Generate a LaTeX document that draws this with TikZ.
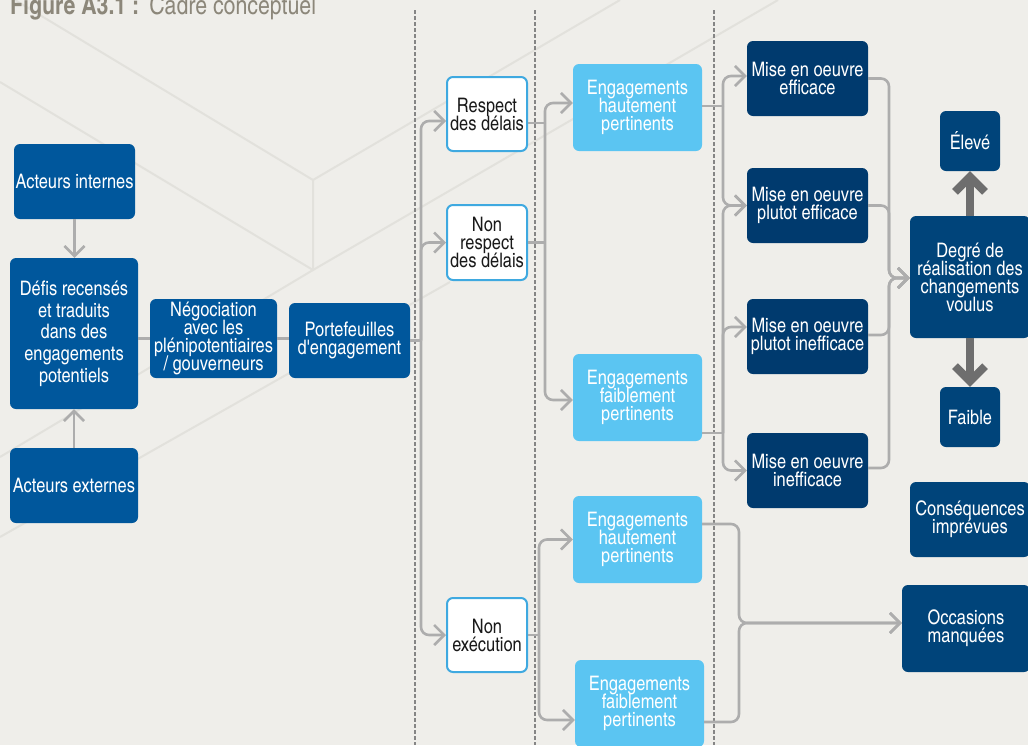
\documentclass[tikz,border=0pt]{standalone}
\usepackage{fontspec}
\setmainfont{TeX Gyre Heros}
\newfontfamily\cnfont{texgyreheroscn}[Extension=.otf,UprightFont=*-regular,BoldFont=*-bold]
\usetikzlibrary{arrows.meta}
\definecolor{bgc}{HTML}{EFEEEA}
\definecolor{bglinec}{HTML}{E2E1DC}
\definecolor{midblue}{HTML}{00579C}
\definecolor{lightblue}{HTML}{5BC5F2}
\definecolor{navy}{HTML}{003A6E}
\definecolor{navyb}{HTML}{00447A}
\definecolor{borderblue}{HTML}{3FA9E0}
\definecolor{lineg}{HTML}{ADADAD}
\definecolor{thickg}{HTML}{6E6E6E}
\definecolor{dashg}{HTML}{858585}
\definecolor{titlec}{HTML}{8C877A}
\newcommand\myboxfont{\cnfont\fontsize{20}{18}\selectfont\lineskiplimit=-30pt\relax\lineskip=0pt\relax}
\newcommand\mytallfont{\cnfont\fontsize{20}{21.7}\selectfont\relax}
\tikzset{
  boxbase/.style={rounded corners=6pt, inner sep=0pt, align=center, text=white,
    font=\myboxfont},
  midbox/.style={boxbase, fill=midblue},
  whitebox/.style={boxbase, fill=white, draw=borderblue, line width=2pt, text=black!90,
    minimum width=80pt},
  lightbox/.style={boxbase, fill=lightblue, minimum width=129pt, minimum height=87pt},
  navybox/.style={boxbase, fill=navy, minimum width=121pt, minimum height=75pt},
  navybbox/.style={boxbase, fill=navyb},
  conn/.style={draw=lineg, line width=2.6pt, rounded corners=8pt},
  arr/.style={conn, -{Straight Barb[length=10pt,width=20pt]}},
  bigarr/.style={draw=thickg, line width=8pt, -{Straight Barb[length=15pt,width=30pt]}},
  dashline/.style={draw=dashg, line width=1.1pt, dash pattern=on 3.5pt off 2.5pt},
  bgline/.style={draw=bglinec, line width=2pt}
}
\begin{document}
\begin{tikzpicture}[x=1pt,y=-1pt]
\useasboundingbox (0,0) rectangle (1028,745);
\clip (0,0) rectangle (1028,745);
\fill[bgc] (0,0) rectangle (1028,745);
% background pattern
\draw[bgline] (15,0) -- (313,180) -- (313,270) -- (0,457);
\draw[bgline] (0,82) -- (313,270) -- (778,0);
\draw[bgline] (313,180) -- (620,0);
\draw[bgline] (0,537) -- (450,282);
% title
\node[anchor=base west, inner sep=0pt, text=titlec, font=\cnfont\fontsize{26}{28}\selectfont] (title) at (10,14)
  {\bfseries Figure A3.1 :\hspace{10pt}\mdseries Cadre conceptuel};
% dashed separators
\draw[dashline] (415,10) -- (415,745);
\draw[dashline] (535,10) -- (535,745);
\draw[dashline] (714,10) -- (714,745);
% nodes
\node[midbox, minimum width=121pt, minimum height=75pt] (ai) at (74.5,181.5) {Acteurs internes};
\node[midbox, minimum width=128pt, minimum height=151pt, font=\mytallfont] (defis) at (74,333.5)
  {Défis recensés\\et traduits\\dans des\\engagements\\potentiels};
\node[midbox, minimum width=128pt, minimum height=75pt] (ae) at (74,485.5) {Acteurs externes};
\node[midbox, minimum width=127pt, minimum height=79pt] (neg) at (213.5,338.5)
  {Négociation\\avec les\\plénipotentiaires\\/ gouverneurs};
\node[midbox, minimum width=121pt, minimum height=75pt] (port) at (349.5,340.5) {Portefeuilles\\d'engagement};
\node[whitebox, minimum height=74pt] (resp) at (487,114) {Respect\\des délais};
\node[whitebox, minimum height=75pt] (nonresp) at (487,242.5) {Non\\respect\\des délais};
\node[whitebox, minimum height=74pt] (nonexec) at (487,635) {Non\\exécution};
\node[lightbox] (eh1) at (637.5,107.5) {Engagements\\hautement\\pertinents};
\node[lightbox] (ef1) at (637.5,397.5) {Engagements\\faiblement\\pertinents};
\node[lightbox] (eh2) at (637.5,539.5) {Engagements\\hautement\\pertinents};
\node[lightbox] (ef2) at (639.5,703.5) {Engagements\\faiblement\\pertinents};
\node[navybox] (m1) at (807.5,78.5) {Mise en oeuvre\\efficace};
\node[navybox] (m2) at (807.5,205.5) {Mise en oeuvre\\plutot efficace};
\node[navybox] (m3) at (807.5,336.5) {Mise en oeuvre\\plutot inefficace};
\node[navybox] (m4) at (807.5,470.5) {Mise en oeuvre\\inefficace};
\node[navybbox, minimum width=60pt, minimum height=60pt] (eleve) at (970,141) {Élevé};
\node[navybbox, minimum width=120pt, minimum height=122pt] (degre) at (970,277)
  {Degré de\\réalisation des\\changements\\voulus};
\node[navybbox, minimum width=60pt, minimum height=60pt] (faible) at (970,417) {Faible};
\node[navybbox, minimum width=120pt, minimum height=75pt] (cons) at (970,519.5) {Conséquences\\imprévues};
\node[navybbox, minimum width=128pt, minimum height=87pt] (occ) at (966,628.5) {Occasions\\manquées};
% connectors: left
\draw[arr] (ai.south) -- (ai.south |- defis.north);
\draw[arr] (ae.north) -- (defis.south);
\draw[conn] (defis.east |- neg.west) -- (neg.west);
\draw[conn] (neg.east) -- (neg.east -| port.west);
% trunk after portefeuilles
\coordinate (j1) at (421,340.5);
\draw[conn] (port.east) -- (j1);
\draw[arr] (j1) |- ([yshift=-7pt]resp.west);
\draw[arr] (j1) |- (nonresp.west);
\draw[arr] (j1) |- (nonexec.west);
% trunk after respect / non respect
\coordinate (j2) at (545,123);
\draw[conn] ([yshift=-9pt]resp.east) -- (j2);
\draw[conn] (nonresp.east) -- (nonresp.east -| j2);
\draw[arr] (j2) |- ([yshift=4.5pt]eh1.west);
\draw[arr] (j2) |- ([yshift=-2.5pt]ef1.west);
% trunk after non execution
\coordinate (j3) at (539,635);
\draw[conn] (nonexec.east) -- (j3);
\draw[arr] (j3) |- (eh2.west);
\draw[arr] (j3) |- ([yshift=-16.5pt]ef2.west);
% engagements -> mise en oeuvre
\coordinate (j4) at (723,106);
\draw[conn] ([yshift=1.5pt]eh1.east) -- (j4);
\draw[arr] (j4) |- ([yshift=2.5pt]m1.west);
\draw[arr] (j4) |- (m2.west);
\coordinate (j5) at (723,433);
\draw[conn] ([yshift=-35.5pt]ef1.east) -- (j5);
\draw[arr] (j5) |- (m2.west);
\draw[arr] (j5) |- ([yshift=9.5pt]m3.west);
\draw[arr] (j5) |- (m4.west);
% mise en oeuvre -> degre
\coordinate (j6) at (889,278);
\draw[arr] (m1.east) -| (j6) -- (j6 -| degre.west);
\draw[arr] (m2.east) -| (j6) -- (j6 -| degre.west);
\draw[arr] ([yshift=1.5pt]m3.east) -| (j6) -- (j6 -| degre.west);
\draw[arr] ([yshift=2.5pt]m4.east) -| (j6) -- (j6 -| degre.west);
% degre -> eleve / faible
\draw[bigarr] (degre.north) -- (eleve.south);
\draw[bigarr] (degre.south) -- (faible.north);
% non execution engagements -> occasions manquees
\coordinate (j7) at (739,623);
\draw[arr] ([yshift=15.5pt]eh2.east) -| (j7) -- (j7 -| occ.west);
\draw[arr] ([yshift=-18.5pt]ef2.east) -| (j7) -- (j7 -| occ.west);
\end{tikzpicture}
\end{document}
